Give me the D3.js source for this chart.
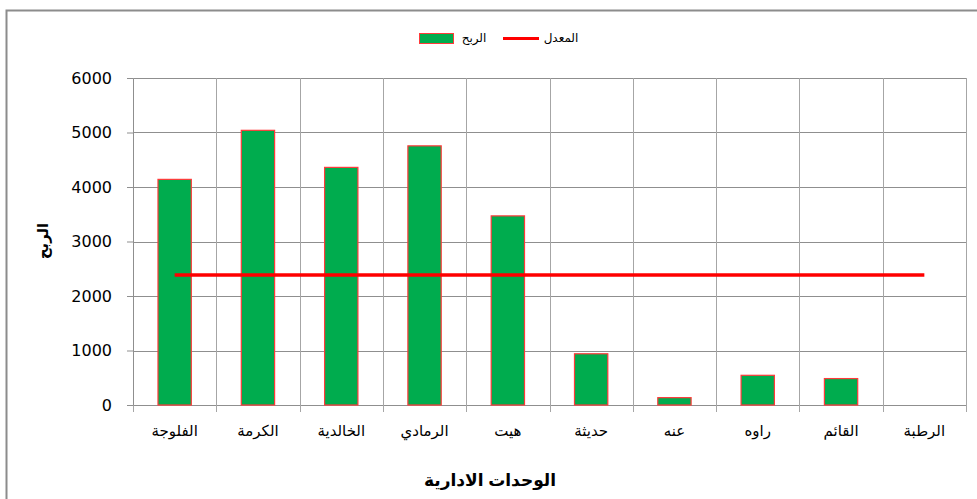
<!DOCTYPE html>
<html>
<head>
<meta charset="utf-8">
<script src="https://cdn.jsdelivr.net/npm/d3@7"></script>
<style>
    body { margin: 0; background: #fff; }
    svg { display: block; font-family: "Liberation Sans", Arial, "DejaVu Sans", sans-serif; }
</style>
</head>
<body>
<div id="chart"></div>
<script>
(function () {
    // Data
    const units = ["الفلوجة", "الكرمة", "الخالدية", "الرمادي", "هيت", "حديثة", "عنه", "راوه", "القائم", "الرطبة"];
    const profit = [4140, 5040, 4360, 4755, 3470, 940, 135, 545, 485, 0];
    const yTicks = [0, 1000, 2000, 3000, 4000, 5000, 6000];

    const W = 977, H = 499;
    const margin = { top: 78, right: 11, bottom: 94, left: 133 };
    const width = W - margin.left - margin.right;
    const height = H - margin.top - margin.bottom;

    const svg = d3.select("#chart")
        .append("svg")
        .attr("width", W)
        .attr("height", H);

    // Outer chart border (only top and left visible in the picture)
    svg.append("rect")
        .attr("x", 6.5)
        .attr("y", 10.5)
        .attr("width", W + 20)
        .attr("height", H + 20)
        .attr("fill", "none")
        .attr("stroke", "#8c8c8c")
        .attr("stroke-width", 2);

    const g = svg.append("g")
        .attr("transform", `translate(${margin.left},${margin.top})`);

    const xScale = d3.scaleBand()
        .domain(units)
        .range([0, width])
        .paddingInner(0.6)
        .paddingOuter(0.3);

    // band boundaries for gridlines/ticks
    const step = width / units.length;

    const yScale = d3.scaleLinear()
        .domain([0, 6000])
        .range([height, 0]);

    // Horizontal gridlines
    g.append("g")
        .selectAll("line")
        .data(yTicks)
        .enter()
        .append("line")
        .attr("x1", 0)
        .attr("x2", width)
        .attr("y1", d => Math.round(yScale(d)) + 0.5)
        .attr("y2", d => Math.round(yScale(d)) + 0.5)
        .attr("stroke", "#8f8f8f")
        .attr("stroke-width", 1);

    // Vertical gridlines at category boundaries
    g.append("g")
        .selectAll("line")
        .data(d3.range(units.length + 1))
        .enter()
        .append("line")
        .attr("x1", i => Math.round(i * step) + 0.5)
        .attr("x2", i => Math.round(i * step) + 0.5)
        .attr("y1", 0)
        .attr("y2", height + 7)
        .attr("stroke", "#a6a6a6")
        .attr("stroke-width", 1);

    // Y axis
    const yAxis = g.append("g")
        .call(d3.axisLeft(yScale).tickValues(yTicks).tickSize(6).tickSizeOuter(0).tickFormat(d3.format("d")));
    yAxis.select(".domain").attr("stroke", "#8f8f8f");
    yAxis.selectAll(".tick line").attr("stroke", "#8f8f8f");
    yAxis.selectAll("text")
        .attr("x", -21)
        .style("font-family", "'DejaVu Sans', Verdana, sans-serif")
        .style("font-size", "16px")
        .style("fill", "#000");

    // Bars
    g.append("g")
        .selectAll("rect")
        .data(profit)
        .enter()
        .append("rect")
        .attr("x", (d, i) => xScale(units[i]))
        .attr("y", d => yScale(d))
        .attr("width", xScale.bandwidth())
        .attr("height", d => height - yScale(d))
        .attr("fill", "#00ac4e")
        .attr("stroke", d => d > 0 ? "#ff3a3a" : "none")
        .attr("stroke-width", 1.2);

    // Average line
    const avg = d3.mean(profit);
    g.append("line")
        .attr("x1", xScale(units[0]) + xScale.bandwidth() / 2)
        .attr("x2", xScale(units[units.length - 1]) + xScale.bandwidth() / 2)
        .attr("y1", yScale(avg))
        .attr("y2", yScale(avg))
        .attr("stroke", "#ff0000")
        .attr("stroke-width", 3.5);

    // Category labels
    g.append("g")
        .selectAll("text")
        .data(units)
        .enter()
        .append("text")
        .attr("x", d => xScale(d) + xScale.bandwidth() / 2)
        .attr("y", height + 31)
        .attr("text-anchor", "middle")
        .attr("direction", "rtl")
        .style("font-size", "15px")
        .text(d => d);

    // Axis titles
    svg.append("text")
        .attr("x", 490)
        .attr("y", 486)
        .attr("text-anchor", "middle")
        .style("font-size", "17px")
        .style("font-weight", "bold")
        .text("الوحدات الادارية");

    svg.append("text")
        .attr("transform", "translate(48,241) rotate(-90)")
        .attr("text-anchor", "middle")
        .style("font-size", "15px")
        .style("font-weight", "bold")
        .text("الربح");

    // Legend
    const legend = svg.append("g");
    legend.append("rect")
        .attr("x", 419.5)
        .attr("y", 33.5)
        .attr("width", 34)
        .attr("height", 10)
        .attr("fill", "#00ac4e")
        .attr("stroke", "#ff3a3a")
        .attr("stroke-width", 1);
    legend.append("text")
        .attr("x", 474)
        .attr("y", 42)
        .attr("text-anchor", "middle")
        .style("font-size", "12px")
        .text("الربح");
    legend.append("line")
        .attr("x1", 503)
        .attr("x2", 539)
        .attr("y1", 38.5)
        .attr("y2", 38.5)
        .attr("stroke", "#ff0000")
        .attr("stroke-width", 3);
    legend.append("text")
        .attr("x", 561)
        .attr("y", 42)
        .attr("text-anchor", "middle")
        .style("font-size", "12px")
        .text("المعدل");
})();
</script>
</body>
</html>
